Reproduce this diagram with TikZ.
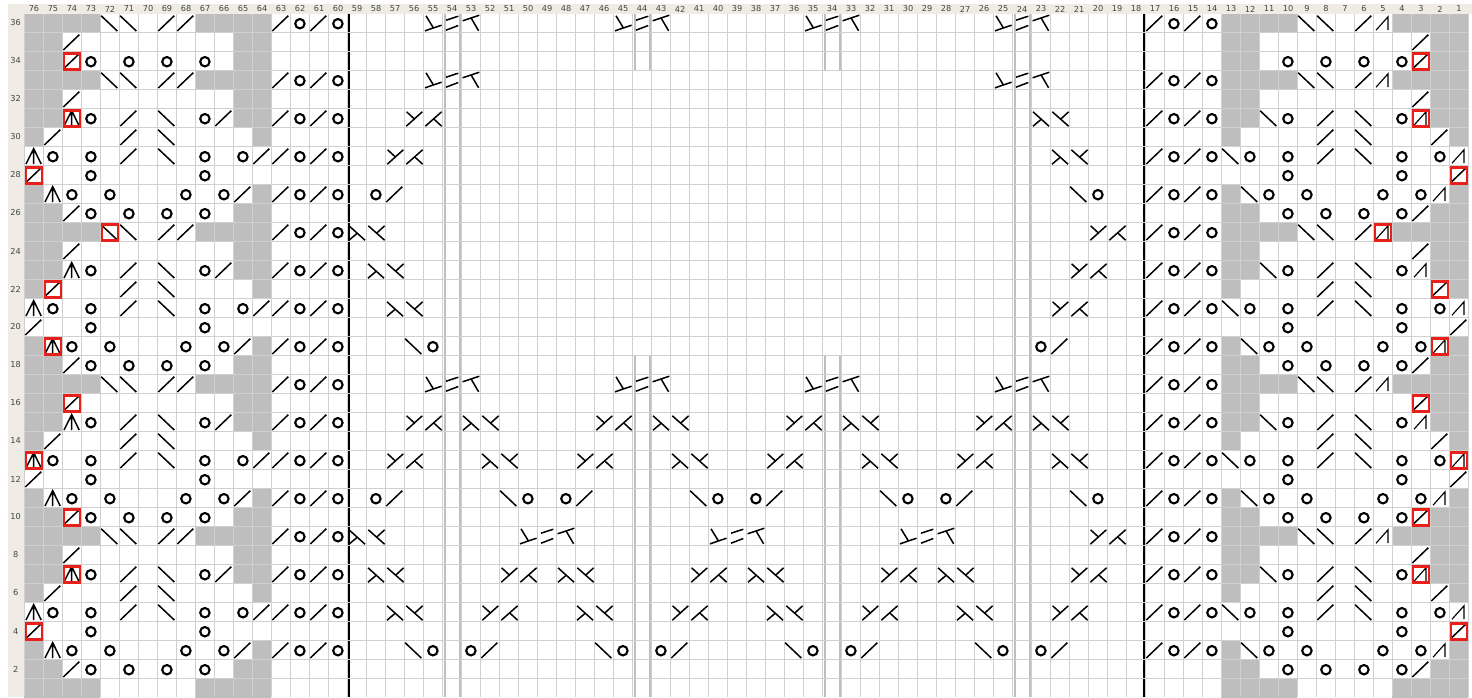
\documentclass[tikz,border=0pt]{standalone}
\usepackage{fontspec}
\setmainfont{DejaVu Sans}
\definecolor{headbg}{HTML}{EEECE5}
\definecolor{gridc}{HTML}{D0D0D0}
\definecolor{cellg}{HTML}{BEBEBE}
\definecolor{barc}{HTML}{BEBEBE}
\definecolor{redc}{HTML}{E8201A}
\definecolor{labc}{HTML}{444444}
\tikzset{
  px/.style={line width=#1*0.5pt},
  ink/.style={draw=black,px=1.5,line cap=butt},
  thin ink/.style={draw=black,px=1.15},
  yo/.style={draw=black,px=2.1},
  redbox/.style={draw=redc,px=2.3},
  gridline/.style={draw=gridc,px=1.6},
  lab/.style={text=labc,font=\fontsize{4.1pt}{4.5pt}\selectfont,inner sep=0pt}
}
% symbols: origin at a cell's top-left corner, one unit is one reference pixel
\newcommand\symd{\draw[ink] (1,17.5)--(17,2.2);}
\newcommand\symb{\draw[ink] (0.8,2.2)--(17,17.5);}
\newcommand\symo{\draw[yo] (9.6,10.2) circle (4.7);}
\newcommand\syma{\draw[ink] (1.7,17.5)--(9.4,2.2)--(16.9,17.5) (9.4,2.2)--(9.4,17.5);}
\newcommand\syms{\draw[thin ink] (2.7,16.7)--(14.7,3.3)--(14.7,16.7);}
\newcommand\symy{\draw[ink] (2,17.7)--(18,3.3) (2.3,3.3)--(10.7,11);}
\newcommand\symk{\draw[ink] (2,17.7)--(18.3,3.3) (10,10)--(18.3,17.7);}
\newcommand\syml{\draw[ink] (1.7,3.3)--(17.7,17.7) (1.7,17.7)--(10,10.7);}
\newcommand\symv{\draw[ink] (2,3.3)--(18.3,17.7) (10.3,10.7)--(18.3,3.3);}
\newcommand\symp{\draw[ink] (1.7,17.3)--(18.3,11.7) (2.7,2.3)--(10,14.3);}
\newcommand\syme{\draw[ink] (3.7,6.7)--(16,2.7) (3.7,16.7)--(16,12);}
\newcommand\symt{\draw[ink] (1.3,7.3)--(18,1.7) (9.7,4.3)--(17.3,17.3);}
\newcommand\redframe{\draw[redbox] (1.7,2) rectangle (17.6,18);}
\newcommand\symD{\symd\redframe}
\newcommand\symB{\symb\redframe}
\newcommand\symA{\syma\redframe}
\newcommand\symS{\syms\redframe}
\newcommand\grayG{\fill[cellg] (0,0) rectangle (19,19);}
% walking a row string
\newcount\colcnt
\newcommand\passname{sym}
\newcommand\currow{0}
\def\walkcells#1{\ifx#1;\else
  \begin{scope}[shift={({24.3+19*(76-\the\colcnt)},{13.5+19*(36-\currow)})}]
  \csname\passname#1\endcsname
  \end{scope}
  \advance\colcnt by -1\relax
  \expandafter\walkcells\fi}
\newcommand\chartrow[3]{\renewcommand\currow{#1}\colcnt=#2\relax\walkcells#3;}
% outer panels: columns 76..60 and 17..1
\newcommand\panels{%
\chartrow{36}{76}{GGGGbb.ddGGGGdodo}\chartrow{36}{17}{dodoGGGGbb.dsGGGG}
\chartrow{35}{76}{GGd........GG....}\chartrow{35}{17}{....GG........dGG}
\chartrow{34}{76}{GGDo.o.o.o.GG....}\chartrow{34}{17}{....GG.o.o.o.oDGG}
\chartrow{33}{76}{GGGGbb.ddGGGGdodo}\chartrow{33}{17}{dodoGGGGbb.dsGGGG}
\chartrow{32}{76}{GGd........GG....}\chartrow{32}{17}{....GG........dGG}
\chartrow{31}{76}{GGAo.d.b.odGGdodo}\chartrow{31}{17}{dodoGGbo.d.b.oSGG}
\chartrow{30}{76}{Gd...d.b....G....}\chartrow{30}{17}{....G....d.b...dG}
\chartrow{29}{76}{ao.o.d.b.o.oddodo}\chartrow{29}{17}{dodobo.o.d.b.o.os}
\chartrow{28}{76}{D..o.....o.......}\chartrow{28}{17}{.......o.....o..D}
\chartrow{27}{76}{Gao.o...o.odGdodo}\chartrow{27}{17}{dodoGbo.o...o.osG}
\chartrow{26}{76}{GGdo.o.o.o.GG....}\chartrow{26}{17}{....GG.o.o.o.odGG}
\chartrow{25}{76}{GGGGBb.ddGGGGdodo}\chartrow{25}{17}{dodoGGGGbb.dSGGGG}
\chartrow{24}{76}{GGd........GG....}\chartrow{24}{17}{....GG........dGG}
\chartrow{23}{76}{GGao.d.b.odGGdodo}\chartrow{23}{17}{dodoGGbo.d.b.osGG}
\chartrow{22}{76}{GD...d.b....G....}\chartrow{22}{17}{....G....d.b...DG}
\chartrow{21}{76}{ao.o.d.b.o.oddodo}\chartrow{21}{17}{dodobo.o.d.b.o.os}
\chartrow{20}{76}{d..o.....o.......}\chartrow{20}{17}{.......o.....o..d}
\chartrow{19}{76}{GAo.o...o.odGdodo}\chartrow{19}{17}{dodoGbo.o...o.oSG}
\chartrow{18}{76}{GGdo.o.o.o.GG....}\chartrow{18}{17}{....GG.o.o.o.odGG}
\chartrow{17}{76}{GGGGbb.ddGGGGdodo}\chartrow{17}{17}{dodoGGGGbb.dsGGGG}
\chartrow{16}{76}{GGD........GG....}\chartrow{16}{17}{....GG........DGG}
\chartrow{15}{76}{GGao.d.b.odGGdodo}\chartrow{15}{17}{dodoGGbo.d.b.osGG}
\chartrow{14}{76}{Gd...d.b....G....}\chartrow{14}{17}{....G....d.b...dG}
\chartrow{13}{76}{Ao.o.d.b.o.oddodo}\chartrow{13}{17}{dodobo.o.d.b.o.oS}
\chartrow{12}{76}{d..o.....o.......}\chartrow{12}{17}{.......o.....o..d}
\chartrow{11}{76}{Gao.o...o.odGdodo}\chartrow{11}{17}{dodoGbo.o...o.osG}
\chartrow{10}{76}{GGDo.o.o.o.GG....}\chartrow{10}{17}{....GG.o.o.o.oDGG}
\chartrow{9}{76}{GGGGbb.ddGGGGdodo}\chartrow{9}{17}{dodoGGGGbb.dsGGGG}
\chartrow{8}{76}{GGd........GG....}\chartrow{8}{17}{....GG........dGG}
\chartrow{7}{76}{GGAo.d.b.odGGdodo}\chartrow{7}{17}{dodoGGbo.d.b.oSGG}
\chartrow{6}{76}{Gd...d.b....G....}\chartrow{6}{17}{....G....d.b...dG}
\chartrow{5}{76}{ao.o.d.b.o.oddodo}\chartrow{5}{17}{dodobo.o.d.b.o.os}
\chartrow{4}{76}{D..o.....o.......}\chartrow{4}{17}{.......o.....o..D}
\chartrow{3}{76}{Gao.o...o.odGdodo}\chartrow{3}{17}{dodoGbo.o...o.osG}
\chartrow{2}{76}{GGdo.o.o.o.GG....}\chartrow{2}{17}{....GG.o.o.o.odGG}
\chartrow{1}{76}{GGGG.....GGGG....}\chartrow{1}{17}{....GGGG.....GGGG}
}
% middle field: columns 59..18
\newcommand\middlefield{%
\chartrow{36}{55}{pet}\chartrow{36}{45}{pet}\chartrow{36}{35}{pet}\chartrow{36}{25}{pet}
\chartrow{33}{55}{pet}\chartrow{33}{25}{pet}
\chartrow{31}{56}{yk}\chartrow{31}{23}{lv}
\chartrow{29}{57}{yk}\chartrow{29}{22}{lv}
\chartrow{27}{58}{od}\chartrow{27}{21}{bo}
\chartrow{25}{59}{lv}\chartrow{25}{20}{yk}
\chartrow{23}{58}{lv}\chartrow{23}{21}{yk}
\chartrow{21}{57}{lv}\chartrow{21}{22}{yk}
\chartrow{19}{56}{bo}\chartrow{19}{23}{od}
\chartrow{17}{55}{pet}\chartrow{17}{45}{pet}\chartrow{17}{35}{pet}\chartrow{17}{25}{pet}
\chartrow{15}{56}{yk}\chartrow{15}{53}{lv}\chartrow{15}{46}{yk}\chartrow{15}{43}{lv}\chartrow{15}{36}{yk}\chartrow{15}{33}{lv}\chartrow{15}{26}{yk}\chartrow{15}{23}{lv}
\chartrow{13}{57}{yk}\chartrow{13}{52}{lv}\chartrow{13}{47}{yk}\chartrow{13}{42}{lv}\chartrow{13}{37}{yk}\chartrow{13}{32}{lv}\chartrow{13}{27}{yk}\chartrow{13}{22}{lv}
\chartrow{11}{58}{od}\chartrow{11}{51}{bo}\chartrow{11}{48}{od}\chartrow{11}{41}{bo}\chartrow{11}{38}{od}\chartrow{11}{31}{bo}\chartrow{11}{28}{od}\chartrow{11}{21}{bo}
\chartrow{9}{59}{lv}\chartrow{9}{50}{pet}\chartrow{9}{40}{pet}\chartrow{9}{30}{pet}\chartrow{9}{20}{yk}
\chartrow{7}{58}{lv}\chartrow{7}{51}{yk}\chartrow{7}{48}{lv}\chartrow{7}{41}{yk}\chartrow{7}{38}{lv}\chartrow{7}{31}{yk}\chartrow{7}{28}{lv}\chartrow{7}{21}{yk}
\chartrow{5}{57}{lv}\chartrow{5}{52}{yk}\chartrow{5}{47}{lv}\chartrow{5}{42}{yk}\chartrow{5}{37}{lv}\chartrow{5}{32}{yk}\chartrow{5}{27}{lv}\chartrow{5}{22}{yk}
\chartrow{3}{56}{bo}\chartrow{3}{53}{od}\chartrow{3}{46}{bo}\chartrow{3}{43}{od}\chartrow{3}{36}{bo}\chartrow{3}{33}{od}\chartrow{3}{26}{bo}\chartrow{3}{23}{od}
}
\begin{document}
\begin{tikzpicture}[x=0.5pt,y=-0.5pt]
\useasboundingbox (0,0) rectangle (1472,697);
\fill[white] (0,0) rectangle (1472,697);
% header strip and row-number strip
\fill[headbg] (8,4) rectangle (1472,13.5);
\fill[headbg] (8,4) rectangle (24.3,697);
% gray cells
\renewcommand\passname{gray}
\panels
% repeat markers (vertical bars)
\foreach \c in {54,24}{
  \draw[draw=barc,px=1.5] ({24.3+19*(76-\c)+2.9},13.5) -- ({24.3+19*(76-\c)+2.9},697);
  \draw[draw=barc,px=2.6] ({24.3+19*(76-\c)+18.2},13.5) -- ({24.3+19*(76-\c)+18.2},697);
}
\foreach \c in {44,34}{
  \draw[draw=barc,px=1.5] ({24.3+19*(76-\c)+2.9},13.5) -- ({24.3+19*(76-\c)+2.9},70);
  \draw[draw=barc,px=2.6] ({24.3+19*(76-\c)+18.2},13.5) -- ({24.3+19*(76-\c)+18.2},70);
  \draw[draw=barc,px=1.5] ({24.3+19*(76-\c)+2.9},356) -- ({24.3+19*(76-\c)+2.9},697);
  \draw[draw=barc,px=2.6] ({24.3+19*(76-\c)+18.2},356) -- ({24.3+19*(76-\c)+18.2},697);
}
% heavy section lines
\draw[draw=black,px=2.4] (349,13.5) -- (349,697);
\draw[draw=black,px=3] (1144,13.5) -- (1144,697);
% grid
\foreach \i in {0,...,76}{\draw[gridline] ({24.3+19*\i},13.5) -- ({24.3+19*\i},697);}
\foreach \j in {1,...,35}{\draw[gridline] (24.3,{13.5+19*\j}) -- (1468.3,{13.5+19*\j});}
% column numbers
\foreach \c in {1,...,76}{\node[lab] (col\c) at ({24.3+19*(76-\c)+9.7},9) {\c};}
% row numbers
\foreach \r in {2,4,...,36}{\node[lab] (row\r) at (15.7,{13.5+19*(36-\r)+9.5}) {\r};}
% stitches
\renewcommand\passname{sym}
\panels
\middlefield
\end{tikzpicture}
\end{document}
